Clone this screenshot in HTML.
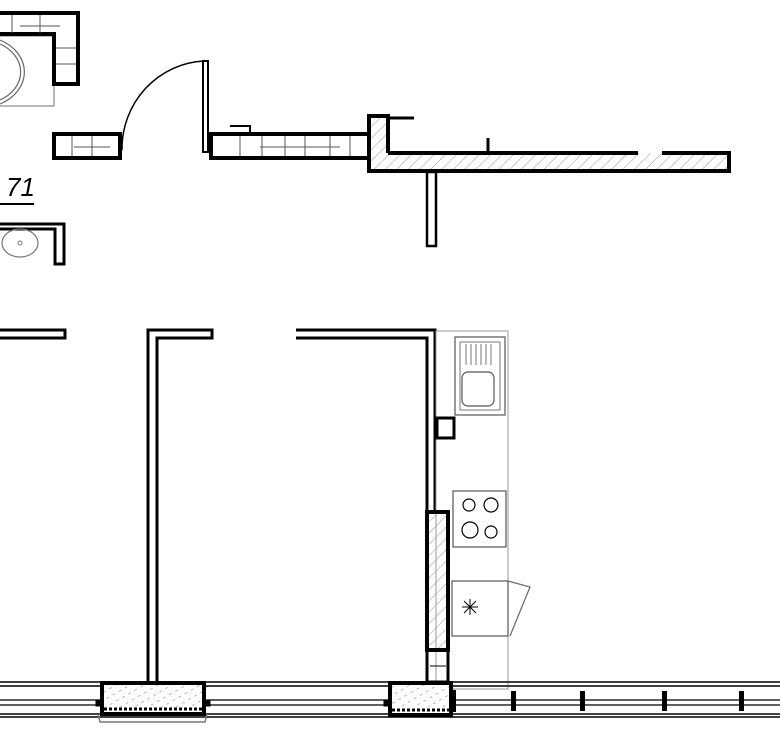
<!DOCTYPE html>
<html><head><meta charset="utf-8"><style>html,body{margin:0;padding:0;background:#fff;}svg{display:block}</style></head>
<body>
<svg width="780" height="750" viewBox="0 0 780 750" xmlns="http://www.w3.org/2000/svg">
<defs>
<pattern id="h" width="8" height="8" patternUnits="userSpaceOnUse" patternTransform="rotate(45)">
<line x1="0" y1="0" x2="0" y2="8" stroke="#999" stroke-width="1"/></pattern>
<pattern id="c" width="7" height="7" patternUnits="userSpaceOnUse" patternTransform="rotate(60)">
<line x1="0" y1="2" x2="0" y2="5" stroke="#777" stroke-width="1"/></pattern>
</defs>
<g fill="none" stroke="#000">
<!-- top-left wardrobe -->
<rect x="-3" y="36" width="57" height="70" stroke="#888" stroke-width="1.2"/>
<path d="M0 44 A40 32 0 0 1 0 100" stroke="#666" stroke-width="1.2"/>
<path d="M0 40 A45 36 0 0 1 0 104" stroke="#666" stroke-width="1.2"/>
<rect x="-2" y="13" width="80" height="21" fill="#fff" stroke="none"/>
<rect x="54" y="34" width="24" height="50" fill="#fff" stroke="none"/>
<path d="M-2 13 H78 V84 H54 V34 H-2" stroke-width="4"/>
<path d="M12 15 V33 M40 15 V33 M20 26 H60 M56 48 H76 M56 64 H76" stroke="#555" stroke-width="1"/>
<!-- left stub -->
<rect x="54" y="134" width="66" height="24" stroke-width="4" fill="#fff"/>
<path d="M72 136 V156 M92 136 V156 M74 147 H110" stroke="#555" stroke-width="1"/>
<!-- door -->
<rect x="203" y="61" width="5" height="91" stroke-width="2"/>
<path d="M122 150 A86 88 0 0 1 204 61" stroke-width="1.5"/>
<!-- wall with blocks -->
<rect x="211" y="134" width="158" height="24" stroke-width="4" fill="#fff"/>
<path d="M240 136 V156 M262 136 V156 M285 136 V156 M305 136 V156 M330 136 V156 M350 136 V156 M260 147 H340" stroke="#555" stroke-width="1"/>
<path d="M230 126 H250 V134" stroke-width="2"/>
<!-- hatched wall -->
<path d="M369 116 H388 V153 H729 V171 H369 Z" stroke="none" fill="url(#h)"/>
<path d="M388 153 H638 M662 153 H729 V171 H369 V116 H388 V153" stroke-width="4"/>
<path d="M388 118 H414" stroke-width="3"/>
<path d="M488 138 V153" stroke-width="3"/>
<rect x="427" y="172" width="9" height="74" stroke-width="2.5" fill="#fff"/>
<!-- 71 -->
<text x="6" y="196" font-family="Liberation Sans, sans-serif" font-size="26" font-style="italic" fill="#000" stroke="none">71</text>
<line x1="0" y1="204" x2="34" y2="204" stroke-width="2"/>
<!-- basin -->
<path d="M-2 224 H64 V264 H55 V229 H-2" stroke-width="3"/>
<ellipse cx="20" cy="243" rx="18" ry="14" stroke="#777" stroke-width="1.2"/>
<circle cx="20" cy="243" r="2" stroke="#777"/>
<!-- middle walls -->
<rect x="-3" y="330" width="68" height="8" stroke-width="3"/>
<path d="M148 682 V330 H212 V338 H157 V682" stroke-width="3"/>
<path d="M296 330 H435 V512 M296 338 H427 V512" stroke-width="3"/>
<!-- kitchen -->
<rect x="436" y="331" width="72" height="358" stroke="#999" stroke-width="1"/>
<rect x="455" y="337" width="50" height="78" stroke="#555" stroke-width="1.2"/>
<rect x="460" y="342" width="40" height="68" stroke="#777" stroke-width="1"/>
<path d="M466 344 V365 M471 344 V365 M476 344 V365 M481 344 V365 M486 344 V365 M491 344 V365" stroke="#777" stroke-width="1"/>
<rect x="462" y="372" width="32" height="34" rx="6" stroke="#555" stroke-width="1.2"/>
<rect x="437" y="418" width="17" height="20" stroke-width="3"/>
<rect x="453" y="491" width="53" height="56" stroke="#555" stroke-width="1.2"/>
<circle cx="469" cy="505" r="6" stroke-width="1.2"/><circle cx="491" cy="505" r="7" stroke-width="1.2"/>
<circle cx="470" cy="530" r="8" stroke-width="1.2"/><circle cx="491" cy="532" r="6" stroke-width="1.2"/>
<rect x="452" y="581" width="56" height="55" stroke="#555" stroke-width="1.2"/>
<path d="M508 581 L530 587 L510 636" stroke="#666" stroke-width="1.2"/>
<path d="M462 607 H478 M470 599 V615 M464 601 L476 613 M476 601 L464 613" stroke-width="1"/>
<!-- thick hatched pillar -->
<rect x="427" y="512" width="21" height="138" stroke-width="4" fill="url(#h)"/>
<rect x="427" y="650" width="21" height="32" stroke-width="3"/>
<path d="M430 666 H446" stroke-width="1"/>
<!-- bottom facade -->
<path d="M0 682 H780 M0 686 H780 M0 714 H780 M0 717 H780" stroke-width="1.5"/>
<path d="M0 700 H780 M0 705 H780" stroke-width="1.3"/>
<rect x="102" y="683" width="102" height="31" stroke-width="4" fill="#fff"/>
<rect x="104" y="685" width="98" height="22" stroke="none" fill="url(#c)"/>
<path d="M104 709 H202" stroke-width="3" stroke-dasharray="3 2"/>
<path d="M98 714 L100 722 H205 L207 714" stroke="#777" stroke-width="1.5"/>
<rect x="390" y="683" width="61" height="32" stroke-width="4" fill="#fff"/>
<rect x="392" y="685" width="57" height="22" stroke="none" fill="url(#c)"/>
<path d="M392 710 H449" stroke-width="3" stroke-dasharray="3 2"/>
<rect x="96" y="700" width="4" height="6" fill="#000"/><rect x="206" y="700" width="4" height="6" fill="#000"/>
<rect x="384" y="700" width="4" height="6" fill="#000"/>
<g fill="#000" stroke="none">
<rect x="450" y="690" width="6" height="22"/>
<rect x="511" y="691" width="5" height="20"/><rect x="580" y="691" width="5" height="20"/>
<rect x="662" y="691" width="5" height="20"/><rect x="739" y="691" width="5" height="20"/>
</g>
</g>
</svg>
</body></html>
